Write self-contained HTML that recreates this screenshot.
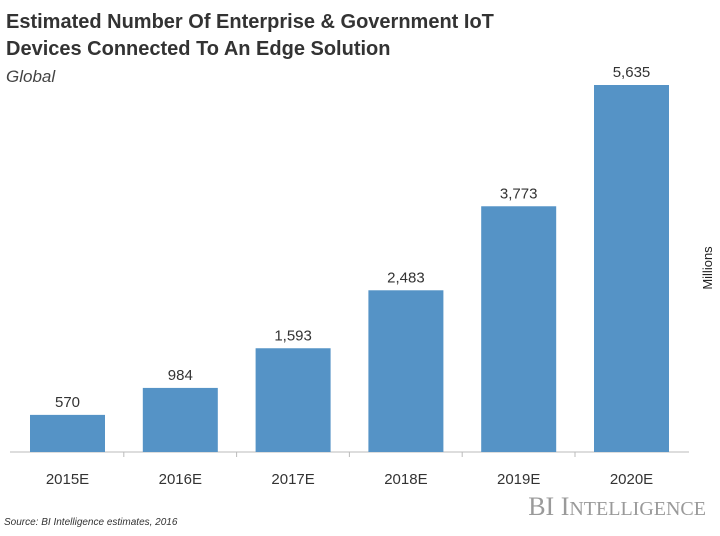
<!DOCTYPE html>
<html><head><meta charset="utf-8"><style>
body{margin:0;width:720px;height:531px;background:#fff;font-family:"Liberation Sans",sans-serif;overflow:hidden}
</style></head><body>
<svg width="720" height="531" xmlns="http://www.w3.org/2000/svg">
<text x="6" y="28" font-size="20" font-weight="bold" fill="#333">Estimated Number Of Enterprise &amp; Government IoT</text>
<text x="6" y="55" font-size="20" font-weight="bold" fill="#333">Devices Connected To An Edge Solution</text>
<text x="6" y="82" font-size="17" font-style="italic" fill="#444">Global</text>
<text transform="translate(712,268) rotate(-90)" font-size="13" text-anchor="middle" fill="#222">Millions</text>
<line x1="10" y1="452" x2="689" y2="452" stroke="#bbb" stroke-width="1"/>
<g id="bars"></g>
<text x="706" y="515" font-size="26" font-family="Liberation Serif,serif" text-anchor="end" fill="#9a9a9a">BI I<tspan font-size="20">NTELLIGENCE</tspan></text>
<text x="4" y="525" font-size="10" font-style="italic" fill="#333">Source: BI Intelligence estimates, 2016</text>
</svg>
<script>
const categories=["2015E","2016E","2017E","2018E","2019E","2020E"];
const values=[570,984,1593,2483,3773,5635];
const valueLabels=["570","984","1,593","2,483","3,773","5,635"];
const ns="http://www.w3.org/2000/svg";
const g=document.getElementById("bars");
const base=452, maxH=367, maxV=5635;
const yScale=v=>base-v/maxV*maxH;
const xScale=i=>30+i*112.8;
const bw=75;
categories.forEach((c,i)=>{
  const x=xScale(i), y=yScale(values[i]);
  const r=document.createElementNS(ns,"rect");
  r.setAttribute("x",x);r.setAttribute("y",y);r.setAttribute("width",bw);r.setAttribute("height",base-y);r.setAttribute("fill","#5593c6");
  
  
  g.appendChild(r);
  const t=document.createElementNS(ns,"text");
  t.setAttribute("x",x+bw/2);t.setAttribute("y",y-8);t.setAttribute("text-anchor","middle");t.setAttribute("font-size","15");t.setAttribute("fill","#333");
  t.textContent=valueLabels[i];
  
  
  g.appendChild(t);
  const l=document.createElementNS(ns,"text");
  l.setAttribute("x",x+bw/2);l.setAttribute("y",484);l.setAttribute("text-anchor","middle");l.setAttribute("font-size","15");l.setAttribute("fill","#333");
  l.textContent=c;
  
  
  g.appendChild(l);
  if(i>0){const tk=document.createElementNS(ns,"line");
  tk.setAttribute("x1",x-19);tk.setAttribute("x2",x-19);tk.setAttribute("y1",base);tk.setAttribute("y2",base+5);tk.setAttribute("stroke","#bbb");
  
  
  g.appendChild(tk);}
});
</script>
</body></html>
